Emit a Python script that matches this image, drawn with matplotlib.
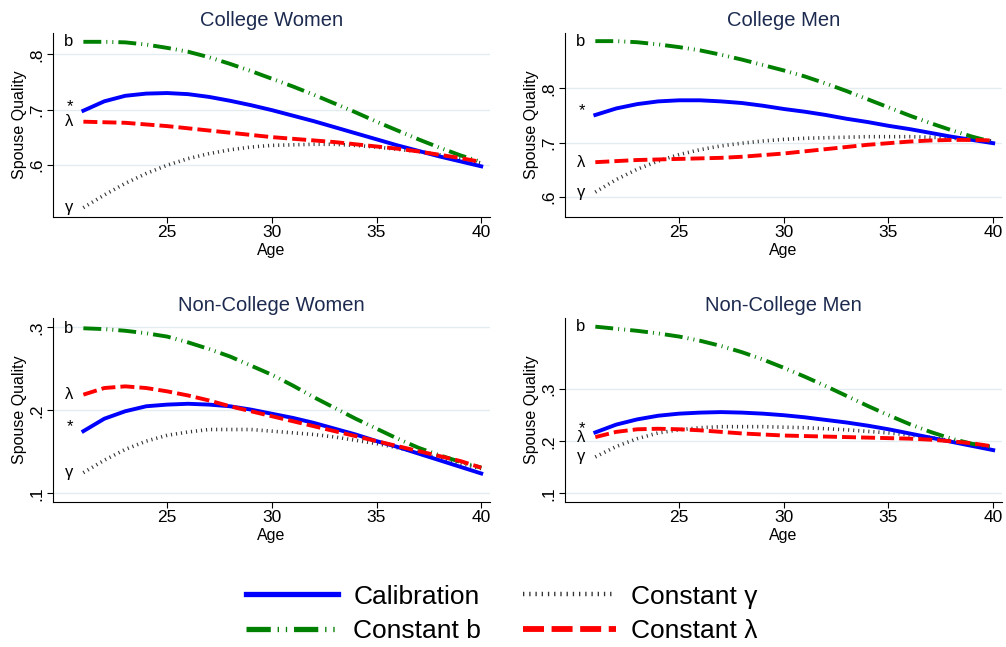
import numpy as np
import matplotlib.pyplot as plt
from matplotlib.lines import Line2D

plt.rcParams['font.family'] = ['Liberation Sans', 'DejaVu Sans']

ages = list(range(21, 41))

# College Women
cw_calib = [.698, .715, .725, .729, .730, .728, .723, .716, .708, .699, .689, .679, .668, .657, .646, .635, .625, .615, .606, .597]
cw_b = [.823, .823, .822, .818, .812, .805, .795, .783, .770, .756, .742, .727, .711, .695, .678, .662, .646, .631, .617, .605]
cw_lam = [.678, .677, .676, .673, .670, .666, .662, .658, .654, .650, .647, .644, .641, .637, .633, .629, .624, .618, .612, .605]
cw_gam = [.522, .545, .566, .584, .599, .611, .620, .627, .632, .635, .636, .637, .637, .635, .632, .628, .624, .618, .611, .603]

# College Men
cm_calib = [.751, .763, .771, .776, .778, .778, .776, .773, .768, .762, .757, .751, .744, .738, .731, .725, .718, .711, .705, .699]
cm_b = [.887, .887, .885, .881, .876, .870, .862, .853, .843, .833, .822, .809, .795, .780, .765, .750, .736, .723, .711, .701]
cm_lam = [.664, .666, .668, .669, .670, .671, .672, .674, .677, .680, .684, .688, .692, .696, .699, .702, .704, .705, .705, .704]
cm_gam = [.609, .632, .651, .666, .678, .687, .694, .699, .703, .706, .708, .709, .710, .711, .711, .711, .710, .708, .706, .703]

# Non-College Women
nw_calib = [.175, .190, .199, .205, .207, .208, .207, .205, .201, .196, .191, .185, .178, .171, .163, .156, .148, .140, .132, .124]
nw_b = [.299, .298, .296, .293, .289, .282, .274, .265, .254, .243, .230, .216, .203, .190, .178, .166, .155, .146, .138, .131]
nw_lam = [.219, .227, .229, .227, .223, .218, .212, .205, .199, .193, .187, .181, .175, .169, .163, .157, .151, .145, .139, .131]
nw_gam = [.125, .140, .153, .163, .170, .174, .177, .177, .177, .175, .173, .171, .168, .164, .160, .155, .149, .142, .136, .130]

# Non-College Men
nm_calib = [.217, .232, .242, .249, .253, .255, .256, .255, .253, .250, .246, .241, .236, .230, .223, .215, .207, .199, .191, .183]
nm_b = [.420, .416, .412, .407, .401, .393, .383, .371, .357, .341, .324, .306, .287, .268, .250, .233, .218, .205, .195, .188]
nm_lam = [.208, .218, .223, .224, .223, .221, .218, .215, .213, .211, .210, .209, .208, .207, .206, .205, .203, .200, .196, .190]
nm_gam = [.170, .190, .205, .216, .222, .226, .228, .228, .228, .227, .226, .224, .222, .219, .216, .212, .207, .201, .195, .189]

titles = ['College Women', 'College Men', 'Non-College Women', 'Non-College Men']
yticks = [[.6, .7, .8], [.6, .7, .8], [.1, .2, .3], [.1, .2, .3]]
yticklabels = [['.6', '.7', '.8'], ['.6', '.7', '.8'], ['.1', '.2', '.3'], ['.1', '.2', '.3']]
ylims = [(0.505, 0.839), (0.563, 0.902), (0.090, 0.311), (0.084, 0.436)]
panels = [
    (cw_calib, cw_b, cw_lam, cw_gam),
    (cm_calib, cm_b, cm_lam, cm_gam),
    (nw_calib, nw_b, nw_lam, nw_gam),
    (nm_calib, nm_b, nm_lam, nm_gam),
]

blue = '#0000ff'
green = '#008000'
red = '#ff0000'
gray = '#333333'
title_col = '#1c2a4f'

# line styles (dash patterns are in linewidth units)
st_calib = dict(color=blue, ls='-')
st_b = dict(color=green, ls=(0, (4.6, 1.3, 0.25, 1.3, 0.25, 1.3)))
st_lam = dict(color=red, ls=(0, (3.6, 1.3)))
st_gam = dict(color=gray, ls=(0, (0.3, 1.1)))
lw_main = 2.8
lw_gam = 2.6

fig = plt.figure(figsize=(10.06, 6.47), dpi=100)
positions = [
    [0.0527, 0.6646, 0.434, 0.2844],
    [0.5616, 0.6646, 0.434, 0.2844],
    [0.0527, 0.2246, 0.434, 0.2834],
    [0.5616, 0.2246, 0.434, 0.2834],
]

for i in range(4):
    ax = fig.add_axes(positions[i])
    calib, b, lam, gam = panels[i]
    ax.plot(ages, gam, lw=lw_gam, **st_gam)
    ax.plot(ages, calib, lw=lw_main, **st_calib)
    ax.plot(ages, b, lw=lw_main, **st_b)
    ax.plot(ages, lam, lw=lw_main, **st_lam)
    for vals, lab in ((calib, '*'), (b, 'b'), (lam, 'λ'), (gam, 'γ')):
        dy = 3 if lab == '*' else 0
        ax.annotate(lab, (ages[0], vals[0]), xytext=(-7, dy), textcoords='offset points',
                    ha='right', va='center', fontsize=12)
    ax.set_xlim(19.55, 40.4)
    ax.set_ylim(*ylims[i])
    ax.set_xticks([25, 30, 35, 40])
    ax.set_yticks(yticks[i])
    ax.set_yticklabels(yticklabels[i], rotation=90, va='center')
    ax.tick_params(labelsize=12.5, length=4, width=0.8, pad=2)
    ax.grid(axis='y', color='#e3ecf0', lw=1)
    ax.set_axisbelow(True)
    ax.spines['top'].set_visible(False)
    ax.spines['right'].set_visible(False)
    ax.set_xlabel('Age', fontsize=11.5, labelpad=2)
    ax.set_ylabel('Spouse Quality', fontsize=11.5, labelpad=2)
    ax.set_title(titles[i], color=title_col, fontsize=14.5, pad=5)

handles = [
    Line2D([], [], lw=3.8, **st_calib),
    Line2D([], [], lw=3.8, **st_b),
    Line2D([], [], lw=3.2, **st_gam),
    Line2D([], [], lw=4.2, **st_lam),
]
labels = ['Calibration', 'Constant b', 'Constant γ', 'Constant λ']
fig.legend(handles, labels, ncol=2, loc='center', bbox_to_anchor=(0.4985, 0.051),
           frameon=False, fontsize=19, handlelength=3.5, columnspacing=1.6,
           labelspacing=0.4, handletextpad=0.57)

fig.savefig('out.png', dpi=100)
